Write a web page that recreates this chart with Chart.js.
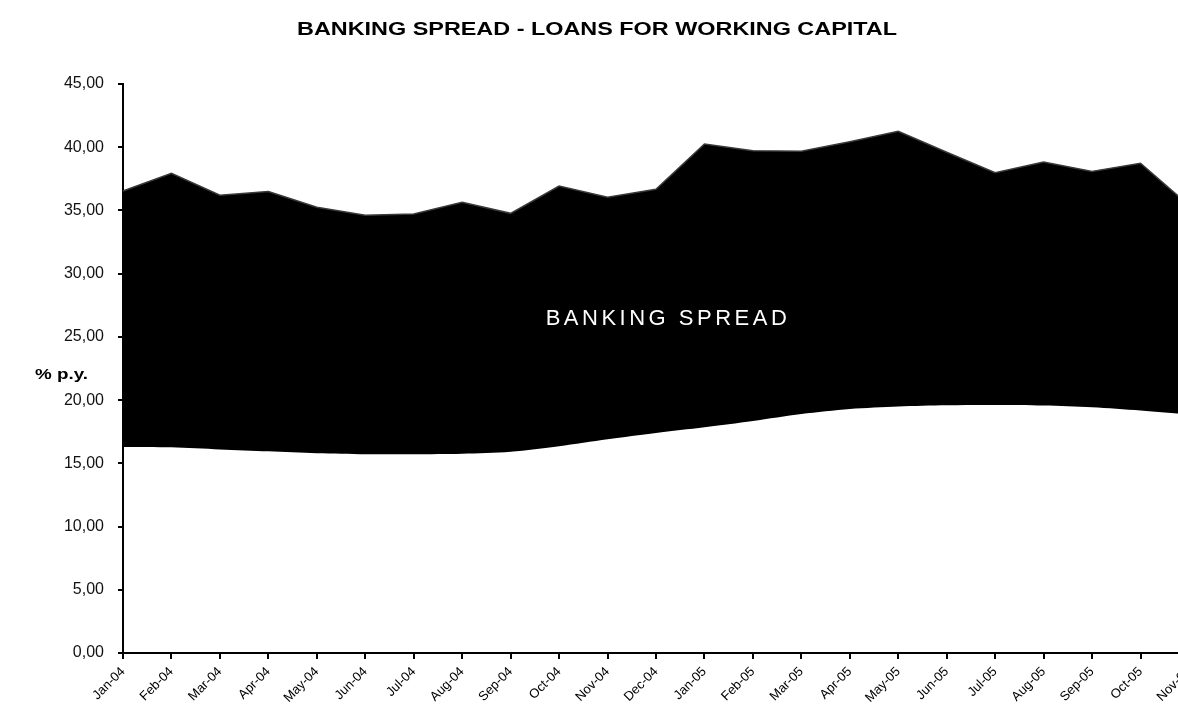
<!DOCTYPE html>
<html>
<head>
<meta charset="utf-8">
<title>Banking spread</title>
<script src="https://cdn.jsdelivr.net/npm/chart.js@4.4.1/dist/chart.umd.min.js"></script>
<style>
    html, body { margin: 0; padding: 0; background: #fff; overflow: hidden; }
    #wrap { width: 1205px; height: 717px; }
</style>
</head>
<body>
<div id="wrap"><canvas id="spreadChart" width="1205" height="717"></canvas></div>
<script>
// monthly series, % per year
const months = ['Jan-04', 'Feb-04', 'Mar-04', 'Apr-04', 'May-04', 'Jun-04', 'Jul-04', 'Aug-04',
    'Sep-04', 'Oct-04', 'Nov-04', 'Dec-04', 'Jan-05', 'Feb-05', 'Mar-05', 'Apr-05', 'May-05',
    'Jun-05', 'Jul-05', 'Aug-05', 'Sep-05', 'Oct-05', 'Nov-05'];
const fundingCost = [16.3, 16.27, 16.1, 15.95, 15.8, 15.72, 15.72, 15.76, 15.92, 16.35, 16.9, 17.4,
    17.85, 18.35, 18.9, 19.3, 19.5, 19.6, 19.62, 19.58, 19.43, 19.17, 18.85];
const lendingRate = [36.54, 37.94, 36.2, 36.49, 35.25, 34.62, 34.72, 35.65, 34.77, 36.93, 36.04, 36.67,
    40.26, 39.73, 39.68, 40.44, 41.26, 39.6, 37.99, 38.83, 38.09, 38.73, 35.4];
const yTicks = [0, 5, 10, 15, 20, 25, 30, 35, 40, 45];

const fmt = v => v.toFixed(2).replace('.', ',');

// text squeezed/stretched horizontally to a given width
function drawWide(c, text, x, y, width, align) {
    const w = c.measureText(text).width;
    const k = width / w;
    c.save();
    c.translate(x, y);
    c.scale(k, 1);
    c.textAlign = align;
    c.fillText(text, 0, 0);
    c.restore();
}

// title, axis caption and the label inside the black band
const extraText = {
    id: 'extraText',
    afterDatasetsDraw(chart) {
        const c = chart.ctx;
        c.save();
        c.fillStyle = '#000';
        c.textBaseline = 'middle';
        c.font = 'bold 18px "Liberation Sans", Arial, sans-serif';
        drawWide(c, 'BANKING SPREAD - LOANS FOR WORKING CAPITAL', 597, 30, 600, 'center');

        c.font = 'bold 14px "Liberation Sans", Arial, sans-serif';
        drawWide(c, '% p.y.', 35, 375, 53, 'left');

        c.fillStyle = '#fff';
        c.font = '22px "Liberation Sans", Arial, sans-serif';
        c.letterSpacing = '3.5px';
        c.textAlign = 'center';
        c.fillText('BANKING SPREAD', 668, 319);
        c.restore();
    }
};

const ctx = document.getElementById('spreadChart').getContext('2d');
const spreadChart = new Chart(ctx, {
    type: 'line',
    data: {
        labels: months,
        datasets: [{
            label: 'Funding cost',
            data: fundingCost,
            borderWidth: 0,
            borderColor: 'rgba(0,0,0,0)',
            pointRadius: 0,
            tension: 0.3,
            fill: false
        }, {
            label: 'Lending rate',
            data: lendingRate,
            borderColor: '#3a3a3a',
            borderWidth: 1.5,
            backgroundColor: '#000',
            pointRadius: 0,
            tension: 0,
            fill: '-1'
        }]
    },
    plugins: [extraText],
    options: {
        responsive: false,
        animation: false,
        layout: { padding: { left: 0, right: 10, top: 84, bottom: 0 } },
        plugins: {
            legend: { display: false },
            tooltip: { enabled: false },
            title: { display: false }
        },
        scales: {
            x: {
                offset: false,
                grid: { drawOnChartArea: false, color: '#000', tickLength: 6, lineWidth: 2 },
                border: { color: '#000', width: 2 },
                ticks: {
                    color: '#000',
                    autoSkip: false,
                    maxRotation: 45,
                    minRotation: 45,
                    padding: 5,
                    font: { family: '"Liberation Sans Narrow", "Arial Narrow", "Liberation Sans", sans-serif', size: 13 }
                },
                afterFit(scale) { scale.height = 64; }
            },
            y: {
                min: 0,
                max: 45,
                afterBuildTicks(scale) { scale.ticks = yTicks.map(v => ({ value: v })); },
                grid: { drawOnChartArea: false, color: '#000', tickLength: 5, lineWidth: 2 },
                border: { color: '#000', width: 2 },
                ticks: {
                    color: '#111',
                    padding: 14,
                    callback: v => fmt(v),
                    font: { family: '"Liberation Sans", Arial, sans-serif', size: 16 }
                },
                afterFit(scale) { scale.width = 123; }
            }
        }
    }
});
</script>
</body>
</html>
